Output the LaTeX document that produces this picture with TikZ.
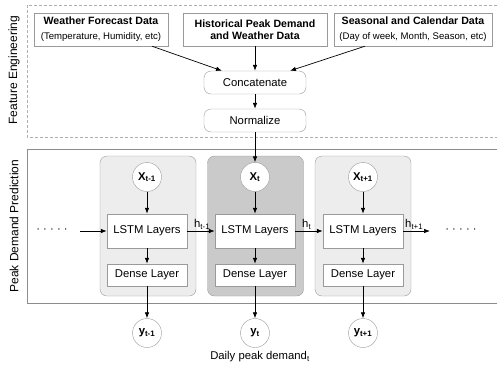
\documentclass[tikz,border=0pt]{standalone}
\usepackage{fontspec}
\setmainfont{Liberation Sans}
\usetikzlibrary{positioning,arrows.meta}
\definecolor{edgegray}{HTML}{9A9A9A}
\definecolor{framegray}{HTML}{8C8C8C}
\definecolor{celllight}{HTML}{EDEDED}
\definecolor{celldark}{HTML}{CACACA}
\newcommand{\lbl}{\fontsize{11.3}{13}\selectfont}
\newcommand{\ttl}{\fontsize{10.6}{13}\selectfont\bfseries}
\newcommand{\sub}{\fontsize{9.6}{11}\selectfont}
\tikzset{
	inbox/.style={draw=edgegray,fill=white,minimum height=33pt,inner sep=0pt,align=center},
	opbox/.style={draw=edgegray,fill=white,rounded corners=7pt,minimum width=102pt,minimum height=23pt,inner sep=0pt,font=\lbl},
	cell/.style={draw=edgegray,rounded corners=7pt,minimum width=96pt,minimum height=140pt,inner sep=0pt},
	layer/.style={draw=edgegray,fill=white,minimum width=80pt,inner sep=0pt,font=\lbl},
	var/.style={circle,draw=edgegray,fill=white,minimum size=29pt,inner sep=0pt,font=\lbl\bfseries},
	ar/.style={-{Latex[length=6pt,width=4.5pt]},line width=0.7pt},
	hlab/.style={font=\lbl,inner sep=1pt}
}
\begin{document}
\begin{tikzpicture}[x=1pt,y=-1pt]
	\useasboundingbox (0,0) rectangle (497,370);
	\clip (0,0) rectangle (497,370);
	% the two stages
	\draw[draw=edgegray!80,line width=0.9pt,dash pattern=on 3pt off 2pt] (27,5) rectangle (510,137);
	\draw[draw=framegray,line width=1pt] (27,149) rectangle (510,303);
	\node[rotate=90,font=\fontsize{12}{14}\selectfont] (fe) at (14,70) {Feature Engineering};
	\node[rotate=90,font=\fontsize{12}{14}\selectfont] (pd) at (14,226) {Peak Demand Prediction};
	% input data
	\node[inbox,minimum width=134pt] (wf) at (101,29.5) {{\ttl Weather Forecast Data}\\[3pt]{\sub (Temperature, Humidity, etc)}};
	\node[inbox,minimum width=144pt] (hist) at (255,29.5) {\ttl Historical Peak Demand\\\ttl and Weather Data};
	\node[inbox,minimum width=158pt] (seas) at (413,29.5) {{\ttl Seasonal and Calendar Data}\\[3pt]{\sub (Day of week, Month, Season, etc)}};
	\node[opbox] (cat) at (255,82.5) {Concatenate};
	\node[opbox] (norm) at (255,120.5) {Normalize};
	\draw[ar] ([xshift=51pt]wf.south) -- ([xshift=-33pt]cat.north);
	\draw[ar] (hist) -- (cat);
	\draw[ar] ([xshift=-48pt]seas.south) -- ([xshift=35pt]cat.north);
	\draw[ar] (cat) -- (norm);
	% unrolled cells
	\node[cell,fill=celllight] (c1) at (148,226) {};
	\node[cell,fill=celldark] (c2) at (255.5,226) {};
	\node[cell,fill=celllight] (c3) at (363,226) {};
	\foreach \i/\cx/\xs/\ys in {1/147/{t-1}/{t-1},2/255/t/t,3/363/{t+1}/{t+1}}{
		\node[var] (x\i) at (\cx,177) {X\textsubscript{\xs}};
		\node[layer,minimum height=34pt] (l\i) at (\cx,231) {LSTM Layers};
		\node[layer,minimum height=22pt] (d\i) at (\cx,275) {Dense Layer};
		\node[var] (y\i) at (\cx,333) {y\textsubscript{\ys}};
		\draw[ar] (x\i) -- (l\i);
		\draw[ar] (l\i) -- (d\i);
		\draw[ar] (d\i) -- (y\i);
	}
	\draw[ar] (norm) -- (x2);
	\node[font=\lbl] (ld) at (52,231) {· · · · ·};
	\node[font=\lbl] (rd) at (461,231) {· · · · ·};
	\coordinate (lin) at (80,231);
	\coordinate (rout) at (430,231);
	\draw[ar] (lin) -- (l1);
	\draw[ar] (l1) -- node[hlab,pos=0.35,above right=0pt and -4pt] (h1) {h\textsubscript{t-1}} (l2);
	\draw[ar] (l2) -- node[hlab,pos=0.35,above right=0pt and -4pt] (h2) {h\textsubscript{t}} (l3);
	\draw[ar] (l3) -- node[hlab,pos=0.1,above right=0pt and -2pt] (h3) {h\textsubscript{t+1}} (rout);
	\node[font=\lbl] (dpd) at (260,357) {Daily peak demand\textsubscript{t}};
\end{tikzpicture}
\end{document}
